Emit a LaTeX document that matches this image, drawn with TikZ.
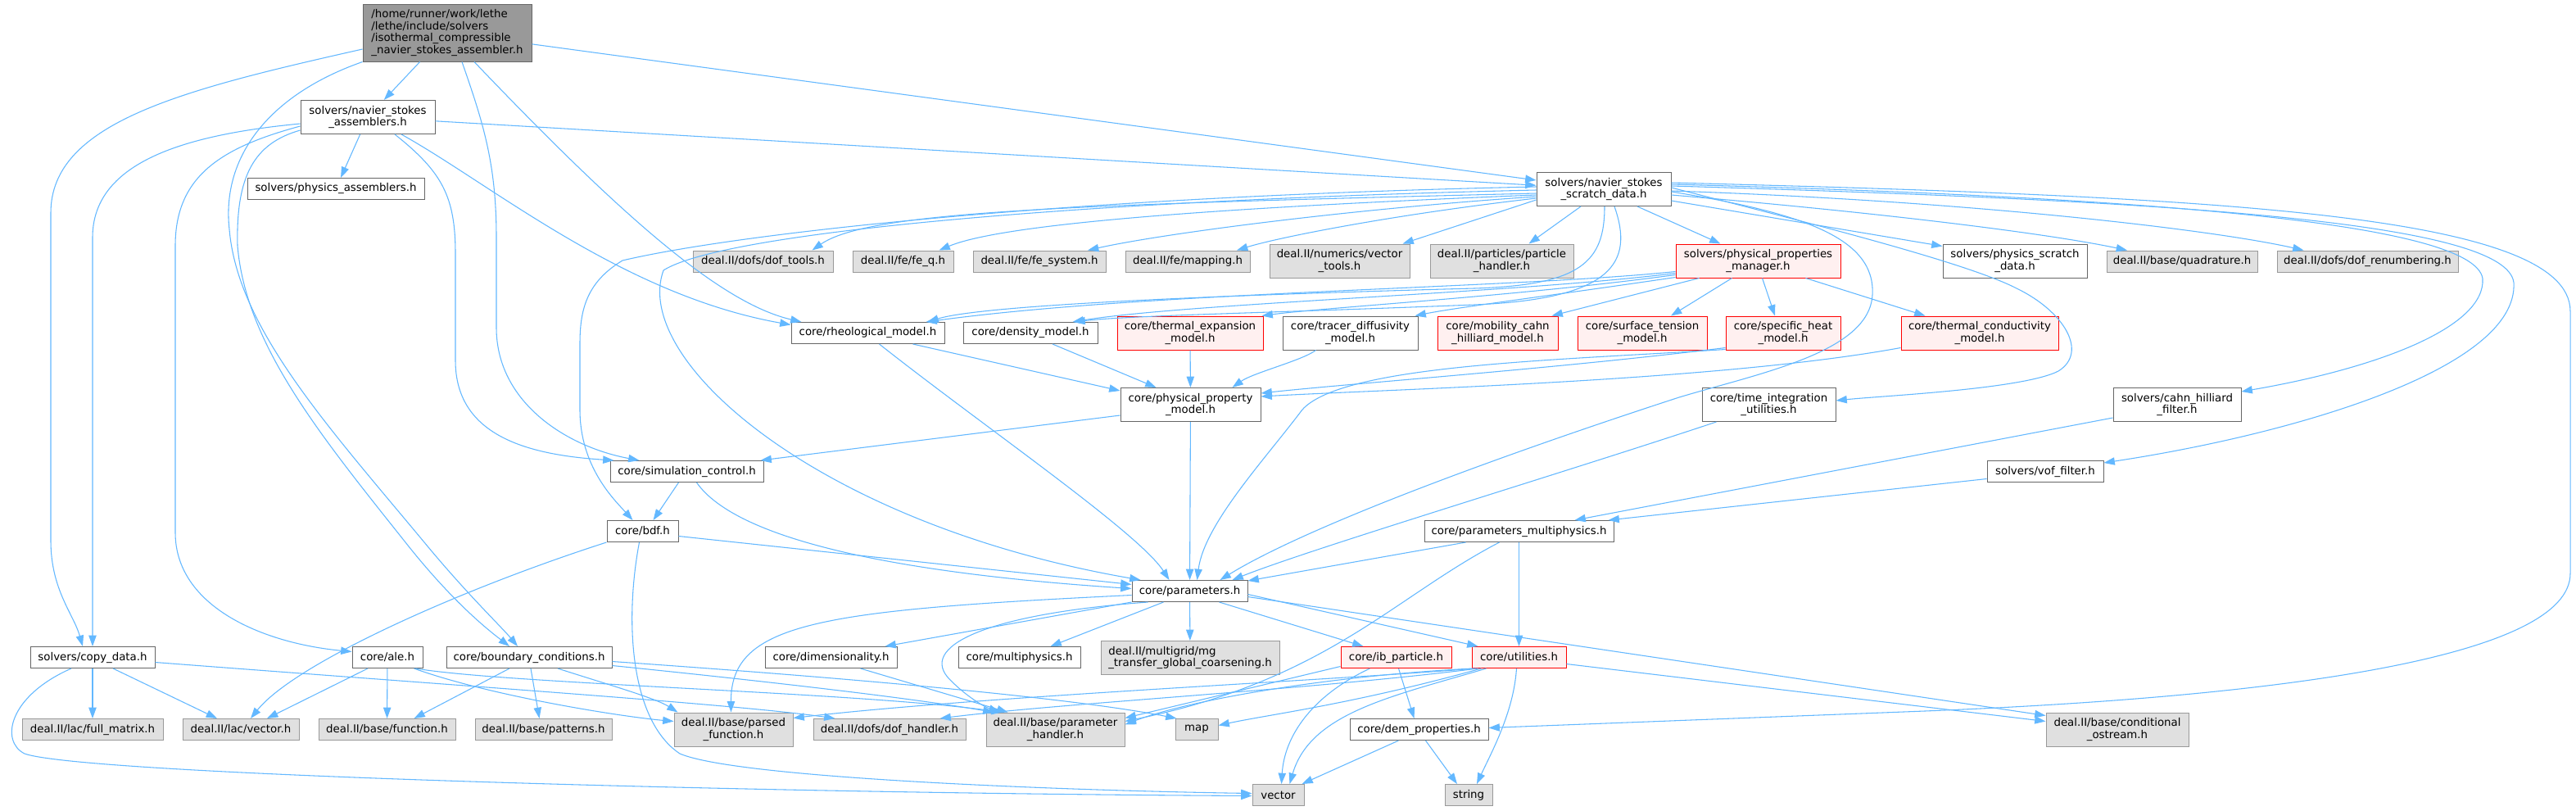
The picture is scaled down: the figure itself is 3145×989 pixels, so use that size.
\documentclass[tikz,border=0pt]{standalone}
\usepackage{fontspec}
\setmainfont{DejaVu Sans}
\usetikzlibrary{arrows.meta,calc}
\definecolor{edgeblue}{HTML}{63B8FF}
\definecolor{extfill}{HTML}{E0E0E0}
\definecolor{extline}{HTML}{999999}
\definecolor{rootfill}{HTML}{999999}
\definecolor{nodeline}{HTML}{666666}
\definecolor{truncfill}{HTML}{FFF0F0}

\begin{document}
\begin{tikzpicture}[x=0.75pt,y=-0.75pt,
    base/.style={font=\fontsize{10}{11}\selectfont, inner sep=1pt, align=center, line width=0.75pt},
    localf/.style={base, draw=nodeline, fill=white},
    extf/.style={base, draw=extline, fill=extfill},
    redf/.style={base, draw=red, fill=truncfill},
    mainf/.style={base, draw=nodeline, fill=rootfill, align=left},
    mw/.style={minimum width=#1*0.75pt},
    one/.style={minimum height=19.5pt},
    two/.style={minimum height=30.75pt},
    dep/.style={draw=edgeblue, line width=0.8pt, -{Triangle[length=10pt,width=7pt]}}]
    % canvas in pixels of the original graph, y pointing down
    \useasboundingbox (0,0) rectangle (3145,989);
    \fill[white] (0,0) rectangle (3145,989);

    \node[mainf, mw=206, minimum height=52.5pt] (root) at (546,40) {/home/runner/work/lethe\\/lethe/include/solvers\\/isothermal\_compressible\\\_navier\_stokes\_assembler.h};
    \node[localf, mw=164, two] (nsa) at (449,143) {solvers/navier\_stokes\\\_assemblers.h};
    \node[localf, mw=216, one] (phasm) at (410,230.5) {solvers/physics\_assemblers.h};
    \node[localf, mw=164, two] (scr) at (1958,231) {solvers/navier\_stokes\\\_scratch\_data.h};
    \node[extf, mw=171, one] (doft) at (931.5,319) {deal.II/dofs/dof\_tools.h};
    \node[extf, mw=123, one] (feq) at (1102.5,319) {deal.II/fe/fe\_q.h};
    \node[extf, mw=162, one] (fesys) at (1269,319) {deal.II/fe/fe\_system.h};
    \node[extf, mw=152, one] (mapg) at (1450,319) {deal.II/fe/mapping.h};
    \node[extf, mw=171, two] (vtools) at (1635.5,318.5) {deal.II/numerics/vector\\\_tools.h};
    \node[extf, mw=175, two] (phand) at (1833.5,318.5) {deal.II/particles/particle\\\_handler.h};
    \node[redf, mw=201, two] (ppm) at (2146.5,318.5) {solvers/physical\_properties\\\_manager.h};
    \node[localf, mw=176, two] (physcr) at (2460,318.5) {solvers/physics\_scratch\\\_data.h};
    \node[extf, mw=184, one] (quad) at (2664,319) {deal.II/base/quadrature.h};
    \node[extf, mw=221, one] (dofren) at (2890.5,319) {deal.II/dofs/dof\_renumbering.h};
    \node[localf, mw=187, one] (rheo) at (1059.5,406.5) {core/rheological\_model.h};
    \node[localf, mw=164, one] (dens) at (1258,406.5) {core/density\_model.h};
    \node[redf, mw=178, two] (texp) at (1453,406.5) {core/thermal\_expansion\\\_model.h};
    \node[localf, mw=165, two] (tracer) at (1648.5,406.5) {core/tracer\_diffusivity\\\_model.h};
    \node[redf, mw=147, two] (mobil) at (1828.5,406.5) {core/mobility\_cahn\\\_hilliard\_model.h};
    \node[redf, mw=158, two] (surf) at (2005,406.5) {core/surface\_tension\\\_model.h};
    \node[redf, mw=140, two] (sheat) at (2177,406.5) {core/specific\_heat\\\_model.h};
    \node[redf, mw=192, two] (tcond) at (2417,406.5) {core/thermal\_conductivity\\\_model.h};
    \node[localf, mw=171, two] (ppmod) at (1453.5,494) {core/physical\_property\\\_model.h};
    \node[localf, mw=163, two] (timeint) at (2159.5,494) {core/time\_integration\\\_utilities.h};
    \node[localf, mw=156, two] (chfilt) at (2658,494) {solvers/cahn\_hilliard\\\_filter.h};
    \node[localf, mw=187, one] (simctl) at (838.5,575.5) {core/simulation\_control.h};
    \node[localf, mw=142, one] (voff) at (2497,575.5) {solvers/vof\_filter.h};
    \node[localf, mw=87, one] (bdf) at (784.5,648.5) {core/bdf.h};
    \node[localf, mw=231, one] (pmulti) at (1854.5,648.5) {core/parameters\_multiphysics.h};
    \node[localf, mw=141, one] (params) at (1452.5,721.5) {core/parameters.h};
    \node[localf, mw=152, one] (copyd) at (113,802.5) {solvers/copy\_data.h};
    \node[localf, mw=86, one] (ale) at (473,802.5) {core/ale.h};
    \node[localf, mw=202, one] (bcond) at (646,802.5) {core/boundary\_conditions.h};
    \node[localf, mw=161, one] (dimen) at (1014.5,802.5) {core/dimensionality.h};
    \node[localf, mw=149, one] (mphys) at (1244.5,802.5) {core/multiphysics.h};
    \node[extf, mw=218, two, align=left] (mgtr) at (1453,803) {deal.II/multigrid/mg\\\_transfer\_global\_coarsening.h};
    \node[redf, mw=135, one] (ibp) at (1704.5,802.5) {core/ib\_particle.h};
    \node[redf, mw=115, one] (util) at (1854.5,802.5) {core/utilities.h};
    \node[extf, mw=172, one] (fullm) at (113,890.5) {deal.II/lac/full\_matrix.h};
    \node[extf, mw=142, one] (lvec) at (294,890.5) {deal.II/lac/vector.h};
    \node[extf, mw=167, one] (func) at (472.5,890.5) {deal.II/base/function.h};
    \node[extf, mw=167, one] (patt) at (663.5,890.5) {deal.II/base/patterns.h};
    \node[extf, mw=145, two] (pfunc) at (895.5,890.5) {deal.II/base/parsed\\\_function.h};
    \node[extf, mw=186, one] (dofh) at (1086,890.5) {deal.II/dofs/dof\_handler.h};
    \node[extf, mw=169, two] (phand2) at (1288.5,890.5) {deal.II/base/parameter\\\_handler.h};
    \node[extf, mw=52, one] (mapn) at (1461,890.5) {map};
    \node[localf, mw=169, one] (dem) at (1732.5,890.5) {core/dem\_properties.h};
    \node[extf, mw=174, two] (condo) at (2585,890.5) {deal.II/base/conditional\\\_ostream.h};
    \node[extf, mw=63, one] (vec) at (1560.5,970.5) {vector};
    \node[extf, mw=58, one] (strn) at (1793,970.5) {string};

    % includes of the assembler itself
    \draw[dep] (root) -- (nsa);
    \draw[dep] (root) -- (scr);
    \draw[dep] ($(root.west)+(0,20)$) .. controls (220,110) and (62,150) .. (62,260) -- (62,660) .. controls (62,720) and (90,750) .. ($(copyd.north)+(-12,0)$);
    \draw[dep] (root.south west) .. controls (330,115) and (270,190) .. (280,280) .. controls (290,400) and (400,520) .. (518,662) .. controls (570,725) and (612,765) .. ($(bcond.north)+(-14,0)$);
    \draw[dep] ($(root.south)+(18,0)$) .. controls (590,150) and (606,200) .. (606,290) -- (606,400) .. controls (606,490) and (690,545) .. ($(simctl.north west)+(36,0)$);
    \draw[dep] ($(root.south)+(33,0)$) .. controls (760,265) and (880,370) .. ($(rheo.north west)+(13,0)$);

    % navier_stokes_assemblers.h
    \draw[dep] (nsa) -- (phasm);
    \draw[dep] (nsa) -- (scr);
    \draw[dep] ($(nsa.west)+(0,8)$) .. controls (220,165) and (113,200) .. (113,290) -- (copyd);
    \draw[dep] ($(nsa.west)+(0,11)$) .. controls (270,180) and (214,215) .. (214,300) -- (214,650) .. controls (214,740) and (320,785) .. ($(ale.west)+(0,-7)$);
    \draw[dep] ($(nsa.west)+(0,16)$) .. controls (310,175) and (288,215) .. (290,300) .. controls (300,420) and (390,530) .. (495,662) .. controls (555,738) and (600,772) .. ($(bcond.north)+(-24,0)$);
    \draw[dep] ($(nsa.south)+(33,0)$) .. controls (540,210) and (556,240) .. (556,310) -- (556,440) .. controls (556,530) and (640,555) .. ($(simctl.north west)+(5,0)$);
    \draw[dep] ($(nsa.south)+(41,0)$) .. controls (600,225) and (760,360) .. ($(rheo.west)+(0,-10)$);

    % navier_stokes_scratch_data.h
    \draw[dep] ($(scr.west)+(0,-3)$) .. controls (1300,240) and (900,285) .. (760,318) .. controls (715,345) and (708,380) .. (708,420) -- (708,500) .. controls (708,570) and (750,610) .. ($(bdf.north)+(-12,0)$);
    \draw[dep] ($(scr.west)+(0,1)$) .. controls (1300,245) and (880,285) .. (810,330) .. controls (770,440) and (1000,640) .. ($(params.north)+(-60,0)$);
    \draw[dep] ($(scr.west)+(0,5)$) .. controls (1300,250) and (1060,258) .. ($(doft.north)+(60,0)$);
    \draw[dep] ($(scr.west)+(0,7)$) .. controls (1450,255) and (1220,275) .. ($(feq.north)+(44,0)$);
    \draw[dep] ($(scr.west)+(0,9)$) .. controls (1650,255) and (1420,285) .. ($(fesys.north)+(59,0)$);
    \draw[dep] ($(scr.west)+(0,11)$) .. controls (1700,262) and (1560,290) .. ($(mapg.north)+(60,0)$);
    \draw[dep] ($(scr.west)+(0,13)$) -- ($(vtools.north)+(77,0)$);
    \draw[dep] ($(scr.south)+(-28,0)$) -- ($(phand.north)+(33,0)$);
    \draw[dep] ($(scr.south)+(41,0)$) -- ($(ppm.north)+(-46,0)$);
    \draw[dep] ($(scr.east)+(0,14)$) -- ($(physcr.north west)+(0,3)$);
    \draw[dep] ($(scr.east)+(0,7)$) .. controls (2300,260) and (2500,285) .. ($(quad.north)+(-67,0)$);
    \draw[dep] ($(scr.east)+(0,2)$) .. controls (2400,245) and (2700,280) .. ($(dofren.north)+(-78,0)$);
    \draw[dep] ($(scr.east)+(0,-6)$) .. controls (2600,240) and (3020,270) .. (3031,340) .. controls (3035,400) and (2900,450) .. ($(chfilt.east)+(0,-16)$);
    \draw[dep] ($(scr.east)+(0,-4)$) .. controls (2650,245) and (3060,270) .. (3069,345) .. controls (3075,450) and (2800,530) .. ($(voff.north east)+(0,3)$);
    \draw[dep] ($(scr.east)+(0,-8)$) .. controls (2700,240) and (3138,260) .. (3138,380) -- (3138,700) .. controls (3138,800) and (2800,850) .. (2350,868) -- ($(dem.east)+(0,-2)$);
    \draw[dep] ($(scr.east)+(0,-2)$) .. controls (2200,270) and (2400,320) .. (2462,352) .. controls (2520,380) and (2550,430) .. (2513,453) .. controls (2470,475) and (2300,483) .. ($(timeint.east)+(0,-5)$);
    \draw[dep] ($(scr.east)+(0,3)$) .. controls (2200,260) and (2290,290) .. (2286,360) .. controls (2282,430) and (2150,455) .. (2050,485) .. controls (1850,550) and (1600,640) .. ($(params.north)+(37,0)$);
    \draw[dep] ($(scr.south)+(1,0)$) .. controls (1959,320) and (1930,348) .. (1800,352) .. controls (1500,360) and (1200,372) .. ($(rheo.north east)+(-21,0)$);
    \draw[dep] ($(scr.south)+(13,0)$) .. controls (1995,320) and (1970,365) .. (1800,372) .. controls (1550,382) and (1380,385) .. ($(dens.north east)+(-29,0)$);

    % physical_properties_manager.h
    \draw[dep] ($(ppm.west)+(0,13)$) .. controls (1850,352) and (1400,356) .. ($(rheo.north east)+(-23,0)$);
    \draw[dep] ($(ppm.west)+(0,15)$) .. controls (1850,358) and (1450,370) .. ($(dens.north east)+(-31,0)$);
    \draw[dep] ($(ppm.west)+(0,17)$) .. controls (1850,362) and (1620,375) .. ($(texp.north east)+(-2,0)$);
    \draw[dep] ($(ppm.west)+(0,20)$) .. controls (1900,360) and (1780,375) .. ($(tracer.north east)+(-4,0)$);
    \draw[dep] ($(ppm.south west)+(29,0)$) -- ($(mobil.north east)+(-8,0)$);
    \draw[dep] ($(ppm.south)+(-32,0)$) -- ($(surf.north)+(35,0)$);
    \draw[dep] ($(ppm.south)+(5,0)$) -- ($(sheat.north)+(-10,0)$);
    \draw[dep] ($(ppm.south)+(58,0)$) -- ($(tcond.north west)+(30,0)$);

    % property models
    \draw[dep] ($(rheo.south)+(55,0)$) -- ($(ppmod.north west)+(0,4)$);
    \draw[dep] ($(rheo.south)+(14,0)$) .. controls (1200,520) and (1390,650) .. ($(params.north)+(-25,0)$);
    \draw[dep] ($(dens.south)+(27,0)$) -- ($(ppmod.north)+(-42,0)$);
    \draw[dep] (texp) -- (ppmod);
    \draw[dep] ($(tracer.south)+(-42,0)$) .. controls (1590,440) and (1530,455) .. ($(ppmod.north)+(51,0)$);
    \draw[dep] ($(sheat.south west)+(0,-3)$) .. controls (1900,450) and (1650,468) .. ($(ppmod.east)+(0,-14)$);
    \draw[dep] ($(sheat.south west)+(0,-1)$) .. controls (1900,440) and (1640,445) .. (1590,500) .. controls (1545,560) and (1470,640) .. ($(params.north)+(9,0)$);
    \draw[dep] ($(tcond.south west)+(0,-3)$) .. controls (2100,465) and (1700,475) .. ($(ppmod.east)+(0,-10)$);
    \draw[dep] ($(ppmod.west)+(0,13)$) -- ($(simctl.north east)+(-4,0)$);
    \draw[dep] (ppmod) -- (params);
    \draw[dep] ($(timeint.south west)+(18,0)$) .. controls (1900,580) and (1600,670) .. ($(params.north)+(52,0)$);
    \draw[dep] ($(chfilt.west)+(0,16)$) -- ($(pmulti.north)+(68,0)$);
    \draw[dep] ($(voff.west)+(0,9)$) -- ($(pmulti.north east)+(-7,0)$);

    % simulation control and bdf
    \draw[dep] ($(simctl.south)+(-10,0)$) -- ($(bdf.north)+(13,0)$);
    \draw[dep] ($(simctl.south)+(12,0)$) .. controls (900,660) and (1100,700) .. ($(params.west)+(0,-3)$);
    \draw[dep] ($(bdf.east)+(0,6)$) -- ($(params.west)+(0,-8)$);
    \draw[dep] (bdf.south west) .. controls (560,720) and (360,810) .. ($(lvec.north)+(12,0)$);
    \draw[dep] ($(bdf.south)+(-4,0)$) .. controls (762,760) and (770,880) .. (830,920) .. controls (900,950) and (1300,965) .. ($(vec.west)+(0,-2)$);

    % copy_data, ale, boundary conditions
    \draw[dep] ($(copyd.south)+(-26,0)$) .. controls (10,850) and (0,905) .. (30,920) .. controls (100,945) and (900,968) .. ($(vec.west)+(0,1)$);
    \draw[dep] (copyd) -- (fullm);
    \draw[dep] ($(copyd.south)+(25,0)$) -- ($(lvec.north)+(-29,0)$);
    \draw[dep] ($(copyd.east)+(0,6)$) .. controls (600,840) and (900,860) .. ($(dofh.north west)+(27,0)$);
    \draw[dep] ($(ale.south)+(-24,0)$) -- ($(lvec.north)+(32,0)$);
    \draw[dep] (ale) -- (func);
    \draw[dep] ($(ale.south east)+(-11,0)$) .. controls (600,850) and (760,875) .. ($(pfunc.west)+(0,-10)$);
    \draw[dep] ($(ale.south east)+(-9,0)$) .. controls (620,835) and (1050,845) .. ($(phand2.north west)+(20,0)$);
    \draw[dep] ($(bcond.south)+(-24,0)$) -- ($(func.north)+(33,0)$);
    \draw[dep] ($(bcond.south)+(2,0)$) -- ($(patt.north)+(-5,0)$);
    \draw[dep] ($(bcond.south)+(35,0)$) .. controls (740,835) and (800,852) .. ($(pfunc.north west)+(5,0)$);
    \draw[dep] ($(bcond.east)+(0,10)$) .. controls (900,828) and (1100,850) .. ($(phand2.north west)+(10,0)$);
    \draw[dep] ($(bcond.east)+(0,5)$) .. controls (1000,825) and (1300,850) .. ($(mapn.north west)+(2,0)$);

    % parameters.h and below
    \draw[dep] ($(params.west)+(0,5)$) .. controls (1000,745) and (892,760) .. ($(pfunc.north)+(-3,0)$);
    \draw[dep] (params.south west) -- ($(dimen.north)+(66,0)$);
    \draw[dep] ($(params.south)+(-32,0)$) -- ($(mphys.north)+(38,0)$);
    \draw[dep] (params) -- (mgtr);
    \draw[dep] ($(params.south west)+(20,0)$) .. controls (1200,750) and (1120,790) .. (1160,830) .. controls (1180,850) and (1200,862) .. ($(phand2.north)+(-68,0)$);
    \draw[dep] ($(params.south)+(36,0)$) -- ($(ibp.north)+(-40,0)$);
    \draw[dep] ($(params.east)+(0,4)$) -- ($(util.north)+(-50,0)$);
    \draw[dep] ($(params.east)+(0,7)$) -- ($(condo.north west)+(0,4)$);
    \draw[dep] ($(dimen.south)+(36,0)$) -- ($(phand2.north)+(-58,0)$);
    \draw[dep] ($(pmulti.south west)+(51,0)$) -- ($(params.north east)+(0,1)$);
    \draw[dep] (pmulti) -- (util);
    \draw[dep] ($(pmulti.south)+(-24,0)$) .. controls (1700,730) and (1620,830) .. ($(phand2.east)+(0,-10)$);
    \draw[dep] ($(ibp.south)+(3,0)$) -- ($(dem.north)+(-6,0)$);
    \draw[dep] ($(ibp.south)+(-32,0)$) .. controls (1600,850) and (1568,900) .. ($(vec.north)+(4,0)$);
    \draw[dep] ($(ibp.west)+(0,11)$) -- ($(phand2.east)+(0,-14)$);
    \draw[dep] ($(util.south)+(-3,0)$) .. controls (1848,870) and (1820,920) .. ($(strn.north)+(10,0)$);
    \draw[dep] ($(util.south west)+(18,0)$) .. controls (1700,850) and (1600,870) .. ($(vec.north)+(14,0)$);
    \draw[dep] ($(util.east)+(0,8)$) -- ($(condo.west)+(0,-10)$);
    \draw[dep] ($(util.south west)+(5,0)$) .. controls (1600,832) and (1200,850) .. ($(pfunc.east)+(0,-14)$);
    \draw[dep] ($(util.south west)+(8,0)$) .. controls (1600,842) and (1300,858) .. ($(dofh.north east)+(-32,0)$);
    \draw[dep] ($(util.south west)+(12,0)$) .. controls (1650,860) and (1550,872) .. ($(mapn.east)+(0,-5)$);
    \draw[dep] ($(util.south west)+(2,0)$) .. controls (1620,825) and (1450,855) .. ($(phand2.east)+(0,-6)$);
    \draw[dep] ($(dem.south)+(-25,0)$) -- ($(vec.north east)+(-3,0)$);
    \draw[dep] ($(dem.south)+(8,0)$) -- ($(strn.north)+(-14,0)$);
\end{tikzpicture}
\end{document}
